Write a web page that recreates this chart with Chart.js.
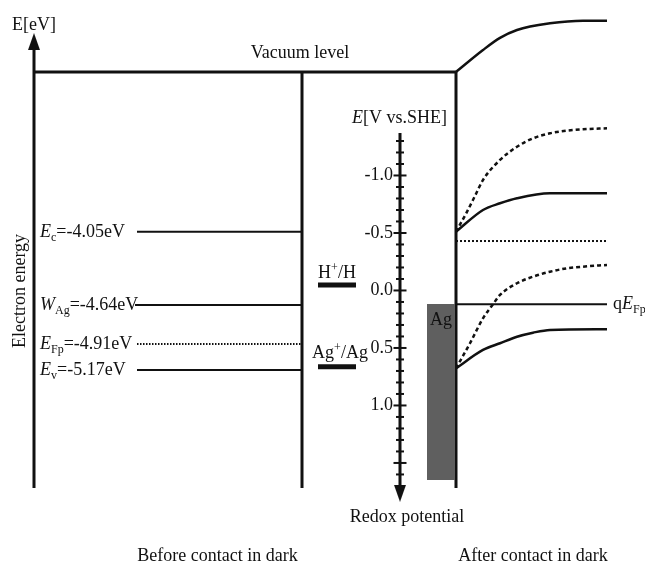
<!DOCTYPE html>
<html>
<head>
<meta charset="utf-8">
<script src="https://cdn.jsdelivr.net/npm/chart.js@4.4.1/dist/chart.umd.min.js"></script>
<style>
  html, body { margin: 0; padding: 0; background: #fff; }
  #wrap { width: 645px; height: 563px; position: relative; }
</style>
</head>
<body>
<div id="wrap"><canvas id="diagram"></canvas></div>
<script>
// x = position across the sketch, y = potential on the V vs. SHE scale (negative is up)

// Before contact: energy levels of the semiconductor
const levelSymbols = ["E", "W", "E", "E"];
const levelSubs = ["c", "Ag", "Fp", "v"];
const levelEnergies = [-4.05, -4.64, -4.91, -5.17];
const levelPos = [-0.511, 0.126, 0.465, 0.691];
const levelFrom = [137, 135, 137, 137];
const levelTo = [302, 302, 302, 302];

// Vacuum level and frame
const vacuumX = [34, 456];
const vacuumY = [-1.9, -1.9];
const frameX = [34, 302, 456];
const frameTop = [-2.15, -1.9, -1.9];
const frameBottom = [1.717, 1.717, 1.717];

// After contact: band bending at the interface
const vacAfterX = [456, 483, 500, 517, 550, 583, 607];
const vacAfterY = [-1.9, -2.091, -2.196, -2.265, -2.323, -2.346, -2.346];
const ecAfterX = [456, 483, 500, 517, 550, 607];
const ecAfterY = [-0.511, -0.7, -0.758, -0.802, -0.845, -0.845];
const ecDashX = [456, 466, 475, 483, 500, 517, 533, 550, 567, 583, 607];
const ecDashY = [-0.511, -0.668, -0.822, -0.961, -1.135, -1.25, -1.323, -1.367, -1.39, -1.402, -1.41];
const evAfterX = [456, 483, 500, 517, 533, 550, 607];
const evAfterY = [0.677, 0.517, 0.459, 0.402, 0.367, 0.343, 0.337];
const evDashX = [456, 470, 483, 493, 500, 517, 533, 550, 567, 583, 607];
const evDashY = [0.677, 0.459, 0.242, 0.12, 0.039, -0.063, -0.12, -0.163, -0.193, -0.207, -0.222];
const redoxFermiX = [456, 607];
const redoxFermiY = [-0.43, -0.43];
const qEfpX = [456, 607];
const qEfpY = [0.12, 0.12];

// Ag electrode block and redox couples
const agX = [427, 455];
const agTop = 0.117;
const agBottom = 1.648;
const coupleNames = ["H+/H", "Ag+/Ag"];
const couplePos = [-0.048, 0.663];
const coupleX = [318, 356];

// Redox potential axis
const redoxAxisX = 400;
const redoxAxisRange = [-1.37, 1.7];
const redoxTicks = [-1.3, -1.2, -1.1, -1.0, -0.9, -0.8, -0.7, -0.6, -0.5, -0.4, -0.3, -0.2, -0.1, 0.0,
  0.1, 0.2, 0.3, 0.4, 0.5, 0.6, 0.7, 0.8, 0.9, 1.0, 1.1, 1.2, 1.3, 1.4, 1.5, 1.6];
const redoxTickLabels = ["-1.0", "-0.5", "0.0", "0.5", "1.0"];
const redoxTickLabelValues = [-1.0, -0.5, 0.0, 0.5, 1.0];

const FONT = '"Liberation Serif", "Times New Roman", serif';
const INK = "#111";

function pts(xs, ys) {
  return xs.map((x, i) => ({ x, y: ys[i] }));
}

function lineSet(xs, ys, extra) {
  return Object.assign({
    data: pts(xs, ys),
    showLine: true,
    borderColor: INK,
    borderWidth: 2,
    pointRadius: 0,
    fill: false,
  }, extra || {});
}

function makeArrow(w, h) {
  const c = document.createElement("canvas");
  c.width = w;
  c.height = h;
  const g = c.getContext("2d");
  g.fillStyle = INK;
  g.beginPath();
  g.moveTo(w / 2, 0);
  g.lineTo(w, h);
  g.lineTo(0, h);
  g.closePath();
  g.fill();
  return c;
}
const arrowHead = makeArrow(12, 17);

const datasets = [];

// Ag block
datasets.push(lineSet(agX, [agTop, agTop], {
  borderWidth: 0,
  backgroundColor: "#5f5f5f",
  fill: { value: agBottom },
}));

// frame verticals
frameX.forEach((x, i) => {
  datasets.push(lineSet([x, x], [frameTop[i], frameBottom[i]], { borderWidth: 3 }));
});
datasets.push(lineSet(vacuumX, vacuumY, { borderWidth: 3 }));
datasets.push({
  data: [{ x: frameX[0], y: -2.165 }],
  pointStyle: arrowHead, pointRadius: 1,
});

// levels before contact
levelPos.forEach((v, i) => {
  datasets.push(lineSet([levelFrom[i], levelTo[i]], [v, v], {
    borderWidth: 2,
    borderDash: i === 2 ? [1.5, 1.5] : [],
  }));
});

// band bending after contact
datasets.push(lineSet(vacAfterX, vacAfterY, { borderWidth: 2.5, cubicInterpolationMode: "monotone" }));
datasets.push(lineSet(ecAfterX, ecAfterY, { borderWidth: 2.5, cubicInterpolationMode: "monotone" }));
datasets.push(lineSet(ecDashX, ecDashY, { borderWidth: 2.5, borderDash: [4, 3], cubicInterpolationMode: "monotone" }));
datasets.push(lineSet(evAfterX, evAfterY, { borderWidth: 2.5, cubicInterpolationMode: "monotone" }));
datasets.push(lineSet(evDashX, evDashY, { borderWidth: 2.5, borderDash: [4, 3], cubicInterpolationMode: "monotone" }));
datasets.push(lineSet(redoxFermiX, redoxFermiY, { borderWidth: 2, borderDash: [2, 2] }));
datasets.push(lineSet(qEfpX, qEfpY, { borderWidth: 2 }));

// redox couples
couplePos.forEach((v) => {
  datasets.push(lineSet(coupleX, [v, v], { borderWidth: 5 }));
});

// redox axis with ticks
datasets.push(lineSet([redoxAxisX, redoxAxisX], redoxAxisRange, { borderWidth: 3 }));
datasets.push({
  data: redoxTicks.map((v) => ({ x: redoxAxisX, y: v })),
  pointStyle: "line",
  pointRadius: redoxTicks.map((v) => (Math.abs(v * 2 - Math.round(v * 2)) < 1e-6 ? 6.5 : 4)),
  borderColor: INK,
  borderWidth: 2,
});
datasets.push({
  data: [{ x: redoxAxisX, y: 1.765 }],
  pointStyle: arrowHead, pointRadius: 1, rotation: 180,
});

// rich text: segments [text, kind], kind = "" | "i" | "sub" | "sup"
function drawRich(ctx, segs, x, y, align) {
  const size = (k) => (k === "sub" || k === "sup" ? 12 : 18);
  const font = (k) => (k === "i" ? "italic " : "") + size(k) + "px " + FONT;
  let total = 0;
  segs.forEach(([t, k]) => {
    ctx.font = font(k);
    total += ctx.measureText(t).width;
  });
  let cx = align === "center" ? x - total / 2 : align === "right" ? x - total : x;
  ctx.textAlign = "left";
  segs.forEach(([t, k]) => {
    ctx.font = font(k);
    const dy = k === "sub" ? 4 : k === "sup" ? -7 : 0;
    ctx.fillText(t, cx, y + dy);
    cx += ctx.measureText(t).width;
  });
}

const textPlugin = {
  id: "texts",
  afterDatasetsDraw(chart) {
    const ctx = chart.ctx;
    const xs = chart.scales.x;
    const ys = chart.scales.y;
    ctx.save();
    ctx.fillStyle = INK;
    ctx.textBaseline = "alphabetic";

    drawRich(ctx, [["E[eV]", ""]], xs.getPixelForValue(34), 30, "center");
    drawRich(ctx, [["Vacuum level", ""]], xs.getPixelForValue(300), 58, "center");

    // level labels
    levelPos.forEach((v, i) => {
      const py = ys.getPixelForValue(v) + 5.5;
      drawRich(ctx, [
        [levelSymbols[i], "i"],
        [levelSubs[i], "sub"],
        ["=" + levelEnergies[i].toFixed(2) + "eV", ""],
      ], xs.getPixelForValue(40), py, "left");
    });

    // rotated axis title
    ctx.save();
    ctx.translate(xs.getPixelForValue(20), ys.getPixelForValue(0) + 0.5);
    ctx.rotate(-Math.PI / 2);
    ctx.font = "18px " + FONT;
    ctx.textAlign = "center";
    ctx.textBaseline = "middle";
    ctx.fillText("Electron energy", 0, 0);
    ctx.restore();

    // redox axis title and tick labels
    drawRich(ctx, [["E", "i"], ["[V vs.SHE]", ""]], xs.getPixelForValue(399.5), 123, "center");
    ctx.textBaseline = "middle";
    redoxTickLabels.forEach((lab, i) => {
      drawRich(ctx, [[lab, ""]], xs.getPixelForValue(redoxAxisX - 7), ys.getPixelForValue(redoxTickLabelValues[i]), "right");
    });
    ctx.textBaseline = "alphabetic";
    drawRich(ctx, [["Redox potential", ""]], xs.getPixelForValue(407), 522, "center");

    // couples
    drawRich(ctx, [["H", ""], ["+", "sup"], ["/H", ""]], xs.getPixelForValue(337), ys.getPixelForValue(couplePos[0]) - 7, "center");
    drawRich(ctx, [["Ag", ""], ["+", "sup"], ["/Ag", ""]], xs.getPixelForValue(340), ys.getPixelForValue(couplePos[1]) - 8.5, "center");

    // Ag block label
    drawRich(ctx, [["Ag", ""]], xs.getPixelForValue((agX[0] + agX[1]) / 2), ys.getPixelForValue(agTop) + 21, "center");

    // quasi Fermi level label
    drawRich(ctx, [["q", ""], ["E", "i"], ["Fp", "sub"]], xs.getPixelForValue(613), ys.getPixelForValue(qEfpY[0]) + 5, "left");

    drawRich(ctx, [["Before contact in dark", ""]], xs.getPixelForValue(217.5), 561, "center");
    drawRich(ctx, [["After contact in dark", ""]], xs.getPixelForValue(533), 561, "center");
    ctx.restore();
  },
};

new Chart(document.getElementById("diagram"), {
  type: "scatter",
  data: { datasets },
  options: {
    responsive: true,
    maintainAspectRatio: false,
    animation: false,
    events: [],
    layout: { padding: 0, autoPadding: false },
    plugins: { legend: { display: false }, tooltip: { enabled: false } },
    scales: {
      x: { type: "linear", min: 0, max: 645, display: false },
      y: { type: "linear", min: -2.526, max: 2.37, reverse: true, display: false },
    },
  },
  plugins: [textPlugin],
});
</script>
</body>
</html>
